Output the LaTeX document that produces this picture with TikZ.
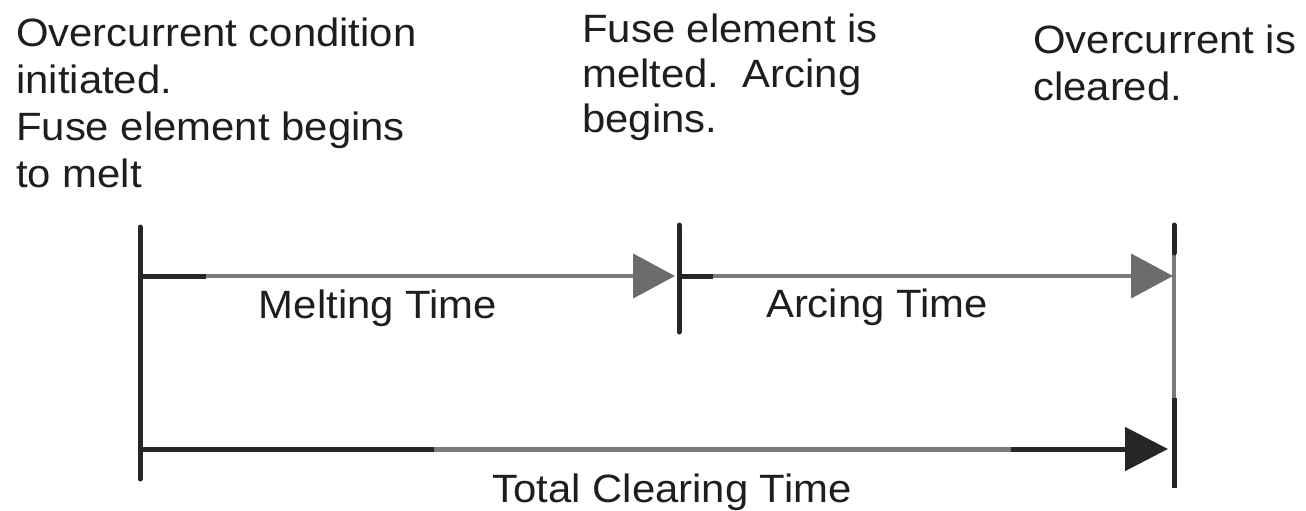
\documentclass[tikz,border=0pt]{standalone}
\usepackage{fontspec}
\setmainfont{Liberation Sans}[FakeStretch=1.06]
\usetikzlibrary{arrows.meta}
\definecolor{inkdark}{HTML}{262626}
\definecolor{inkgray}{HTML}{7A7A7A}
\definecolor{tipgray}{HTML}{6C6C6C}
\definecolor{textink}{HTML}{1E1E1E}
\begin{document}
\begin{tikzpicture}[x=1pt, y=-1pt,
  txt/.style={font=\fontsize{39.5}{47}\selectfont, text=textink, inner sep=0pt, align=left},
  tick/.style={draw=inkdark, line width=5pt, line cap=round},
  span/.style={draw=inkgray, line width=4.5pt},
  dark/.style={draw=inkdark, line width=5pt},
  graytip/.style={-{Triangle[length=42pt, width=44pt, color=tipgray]}},
  darktip/.style={-{Triangle[length=43pt, width=43pt, color=inkdark]}}
]
\useasboundingbox (0,0) rectangle (1306,511);

% event labels (anchored at the baseline of their last line)
\node[txt, anchor=base west] (start) at (16,187)
  {Overcurrent condition\\initiated.\\Fuse element begins\\to melt};
\node[txt, anchor=base west, font=\fontsize{39.5}{45}\selectfont] (melted) at (582,132)
  {Fuse element is\\melted.\ \ Arcing\\begins.};
\node[txt, anchor=base west] (cleared) at (1033,100)
  {Overcurrent is\\cleared.};

% time marks
\coordinate (t0a) at (140,227);
\coordinate (t0b) at (140,479);
\coordinate (t1a) at (679,225);
\coordinate (t1b) at (679,332);
\coordinate (t2a) at (1174,225);
\coordinate (t2b) at (1174,488);
\draw[tick] (t0a) -- (t0b);
\draw[tick] (t1a) -- (t1b);
\draw[draw=inkgray, line width=4pt] (t2a) -- (t2b);
\draw[tick] (t2a) -- (1174,253);
\draw[dark] (1174,398) -- (t2b);

% melting time
\coordinate (m0) at (140,276);
\coordinate (m1) at (675,276);
\draw[span, graytip] (m0) -- (m1);
\draw[dark] (m0) -- (206,276);
\node[txt, anchor=base] (meltlbl) at (378,318) {Melting Time};

% arcing time
\coordinate (a0) at (679,276);
\coordinate (a1) at (1173,276);
\draw[span, graytip] (a0) -- (a1);
\draw[dark] (a0) -- (713,276);
\node[txt, anchor=base] (arclbl) at (877,317) {Arcing Time};

% total clearing time
\coordinate (c0) at (140,449);
\coordinate (c1) at (1168,449);
\draw[span, line width=5pt, darktip] (c0) -- (c1);
\draw[dark] (c0) -- (434,449);
\draw[dark] (1011,449) -- (1130,449);
\node[txt, anchor=base] (totallbl) at (672,502) {Total Clearing Time};
\end{tikzpicture}
\end{document}
